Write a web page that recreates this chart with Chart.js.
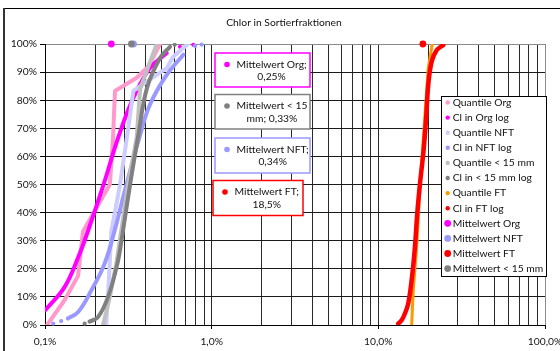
<!DOCTYPE html>
<html>
<head>
<meta charset="utf-8">
<script src="https://cdn.jsdelivr.net/npm/chart.js@4/dist/chart.umd.min.js"></script>
<style>
  html, body { margin: 0; padding: 0; background: #fff; }
  canvas { display: block; }
</style>
</head>
<body>
<canvas id="chart" width="560" height="351"></canvas>
<script>
// Cumulative distributions of chlorine content per sorting fraction.
// x: chlorine content in % (log scale), y: cumulative share in %.

// Quantile Org
const qOrgCl  = [0.103, 0.131, 0.158, 0.169, 0.245, 0.256, 0.263, 0.355, 0.417, 0.49];
const qOrgCum = [0, 8.8, 17.5, 33.3, 50, 66.7, 83.3, 88, 92, 100];

// Cl in Org log (solid part and the sparse end points)
const logOrgCl  = [0.1, 0.131, 0.158, 0.18, 0.224, 0.276, 0.339, 0.426, 0.537];
const logOrgCum = [5.2, 13.5, 24, 33, 49.8, 67, 80.8, 91.4, 96.8];
const logOrgEndCl  = [0.646, 0.776];
const logOrgEndCum = [99, 99.7];

// Quantile NFT
const qNftCl  = [0.233, 0.242, 0.25, 0.282, 0.31, 0.339, 0.468, 0.537, 0.588, 0.72];
const qNftCum = [0, 16.7, 33.3, 50, 66.7, 83.3, 89, 91.4, 95.5, 100];

// Cl in NFT log
const logNftCl  = [0.137, 0.158, 0.19, 0.228, 0.262, 0.302, 0.372, 0.426, 0.537, 0.676];
const logNftCum = [2.3, 4.6, 12.4, 21.9, 33.7, 48, 67.6, 78.4, 89, 96.2];
const logNftEndCl  = [0.112, 0.125, 0.795, 0.871];
const logNftEndCum = [0.5, 1.4, 99.3, 99.8];

// Quantile < 15 mm
const qSmallCl  = [0.223, 0.245, 0.268, 0.287, 0.315, 0.355, 0.372, 0.468];
const qSmallCum = [0, 10, 22, 33.7, 50, 66.7, 84, 100];

// Cl in < 15 mm log
const logSmallCl  = [0.185, 0.208, 0.239, 0.272, 0.291, 0.324, 0.363, 0.409, 0.49, 0.562];
const logSmallCum = [1.2, 2.8, 10, 21.9, 32, 50, 67.6, 84.3, 95, 99];
const logSmallEndCl  = [0.173, 0.6];
const logSmallEndCum = [0.5, 99.7];

// Quantile FT
const qFtCl  = [15.85, 16.2, 16.98, 17.89, 19.93, 21.06];
const qFtCum = [0, 12.4, 27.8, 51.6, 91.4, 100];

// Cl in FT log
const logFtCl  = [13.16, 13.8, 14.44, 15.11, 15.84, 16.58, 17.12, 17.81, 18.65, 19.35, 19.93, 20.88, 22.37, 24.51];
const logFtCum = [0.5, 1.7, 4.1, 7.6, 15.9, 27.8, 39.7, 50.8, 61.6, 73.5, 85.4, 93.7, 97.8, 99.6];

// Mean chlorine content per fraction (drawn at the 100 % line)
const meanOrg   = 0.25;
const meanNft   = 0.34;
const meanFt    = 18.5;
const meanSmall = 0.33;
const meanLevel = 100;

// Axis settings
const xMin = 0.1, xMax = 100;
const yTicks = [0, 10, 20, 30, 40, 50, 60, 70, 80, 90, 100];

const FONT = 'Lato, "Open Sans", sans-serif';
const FSIZE = 10.3;
const TEXT = '#111';

const pts = (xs, ys) => xs.map((x, i) => ({ x: x, y: ys[i] }));
const pct = v => String(v).replace('.', ',') + '%';

function curve(label, xs, ys, color, width, smooth, order) {
  return {
    label: label, data: pts(xs, ys), showLine: true,
    borderColor: color, backgroundColor: color, borderWidth: width,
    pointRadius: 0, pointHoverRadius: 0,
    cubicInterpolationMode: 'default', tension: smooth ? 0.4 : 0,
    borderCapStyle: 'round', borderJoinStyle: 'round',
    legendRadius: 2.2, order: order
  };
}
function dots(xs, ys, color, r, order) {
  return {
    label: '', data: pts(xs, ys), showLine: false,
    pointRadius: r, pointBackgroundColor: color, pointBorderWidth: 0,
    pointHoverRadius: r, clip: false, inLegend: false, order: order
  };
}
function mean(label, v, color, order) {
  return {
    label: label, data: [{ x: v, y: meanLevel }], showLine: false,
    pointRadius: 3.4, pointBackgroundColor: color, pointBorderWidth: 0,
    backgroundColor: color, clip: false, legendRadius: 3.4, order: order
  };
}

const datasets = [
  curve('Quantile Org', qOrgCl, qOrgCum, '#FF99CC', 4, false, 20),
  curve('Cl in Org log', logOrgCl, logOrgCum, '#FF00FF', 4, true, 19),
  curve('Quantile NFT', qNftCl, qNftCum, '#CCCCFF', 4, false, 18),
  curve('Cl in NFT log', logNftCl, logNftCum, '#9999FF', 4, true, 17),
  curve('Quantile < 15 mm', qSmallCl, qSmallCum, '#C0C0C0', 4, false, 16),
  curve('Cl in < 15 mm log', logSmallCl, logSmallCum, '#808080', 4, true, 15),
  curve('Quantile FT', qFtCl, qFtCum, '#FF9900', 3, false, 14),
  curve('Cl in FT log', logFtCl, logFtCum, '#FF0000', 4.5, true, 13),
  mean('Mittelwert Org', meanOrg, '#FF00FF', 12),
  mean('Mittelwert NFT', meanNft, '#9999FF', 11),
  mean('Mittelwert FT', meanFt, '#FF0000', 10),
  mean('Mittelwert < 15 mm', meanSmall, '#808080', 9),
  dots(logOrgEndCl, logOrgEndCum, '#FF00FF', 2.1, 19),
  dots(logNftEndCl, logNftEndCum, '#9999FF', 2.1, 17),
  dots(logSmallEndCl, logSmallEndCum, '#808080', 2.1, 15)
];

// Value boxes for the mean values
const meanBoxes = [
  { text: 'Mittelwert Org;', second: pct(meanOrg), color: '#FF00FF', x0: 215, y0: 53, x1: 310, y1: 87 },
  { text: 'Mittelwert < 15', second: 'mm; ' + pct(meanSmall), color: '#808080', x0: 215, y0: 94.5, x1: 310, y1: 129 },
  { text: 'Mittelwert NFT;', second: pct(meanNft), color: '#9999FF', x0: 215, y0: 138, x1: 310, y1: 173 },
  { text: 'Mittelwert FT;', second: pct(meanFt), color: '#FF0000', x0: 213, y0: 180.5, x1: 303, y1: 215.5 }
];

const decorations = {
  id: 'decorations',
  beforeDraw(chart) {
    const c = chart.ctx;
    c.save();
    c.fillStyle = '#fff';
    c.fillRect(0, 0, chart.width, chart.height);
    c.restore();
  },
  afterDraw(chart) {
    const c = chart.ctx;
    c.save();
    // outer frame
    c.fillStyle = '#000';
    c.fillRect(4, 8, chart.width - 4, 1);
    c.fillStyle = '#333';
    c.fillRect(3, 8, 2, chart.height - 8);

    c.font = FSIZE + 'px ' + FONT;
    c.textBaseline = 'middle';

    // title
    c.fillStyle = TEXT;
    c.textAlign = 'center';
    c.fillText('Chlor in Sortierfraktionen', 284, 23);

    // mean value boxes
    meanBoxes.forEach(b => {
      c.fillStyle = '#fff';
      c.fillRect(b.x0, b.y0, b.x1 - b.x0, b.y1 - b.y0);
      c.strokeStyle = b.color;
      c.lineWidth = 1.5;
      c.strokeRect(b.x0, b.y0, b.x1 - b.x0, b.y1 - b.y0);
      const w = c.measureText(b.text).width;
      const tx = b.x0 + 21.5;
      c.fillStyle = b.color;
      c.beginPath();
      c.arc(b.x0 + 12, b.y0 + 11.5, 2.8, 0, Math.PI * 2);
      c.fill();
      c.fillStyle = TEXT;
      c.textAlign = 'left';
      c.fillText(b.text, tx, b.y0 + 11.5);
      c.textAlign = 'center';
      c.fillText(b.second, tx + w / 2, b.y0 + 24);
    });

    // legend
    const lx0 = 441.5, ly0 = 96.5, lx1 = 546.5, ly1 = 276.5;
    c.fillStyle = '#fff';
    c.fillRect(lx0, ly0, lx1 - lx0, ly1 - ly0);
    c.strokeStyle = '#000';
    c.lineWidth = 1;
    c.strokeRect(lx0, ly0, lx1 - lx0, ly1 - ly0);
    let row = 0;
    chart.data.datasets.forEach(ds => {
      if (ds.inLegend === false) return;
      const y = 102.5 + row * 15.1;
      c.fillStyle = ds.backgroundColor || ds.pointBackgroundColor;
      c.beginPath();
      c.arc(447.7, y, ds.legendRadius, 0, Math.PI * 2);
      c.fill();
      c.fillStyle = TEXT;
      c.textAlign = 'left';
      c.fillText(ds.label, 452.7, y);
      row++;
    });
    c.restore();
  }
};

const isDecade = v => Math.abs(Math.log10(v) - Math.round(Math.log10(v))) < 1e-9;

new Chart(document.getElementById('chart'), {
  type: 'scatter',
  data: { datasets: datasets },
  plugins: [decorations],
  options: {
    responsive: false,
    animation: false,
    devicePixelRatio: 1,
    layout: { padding: { top: 44, right: 15, left: 0, bottom: 0 } },
    plugins: { legend: { display: false }, tooltip: { enabled: false }, title: { display: false } },
    scales: {
      x: {
        type: 'logarithmic', min: xMin, max: xMax,
        afterBuildTicks(scale) {
          // keep the 1..9 steps of every decade only
          scale.ticks = scale.ticks.filter(t => {
            const m = t.value / Math.pow(10, Math.floor(Math.log10(t.value) + 1e-9));
            return Math.abs(m - Math.round(m)) < 1e-6;
          });
        },
        afterFit(scale) { scale.height = 26; scale.paddingLeft = 0; scale.paddingRight = 0; },
        border: { color: '#000', width: 1 },
        grid: {
          color: ctx => (ctx.tick && Math.abs(ctx.tick.value - xMax) < 1e-9) ? '#8a8a8a' : '#2a2a2a',
          lineWidth: 1,
          drawTicks: true, tickLength: 4,
          tickColor: ctx => (ctx.tick && isDecade(ctx.tick.value)) ? '#000' : 'rgba(0,0,0,0)'
        },
        ticks: {
          autoSkip: false, maxRotation: 0, minRotation: 0, padding: 6,
          color: TEXT, font: { family: FONT, size: FSIZE },
          callback: v => isDecade(v) ? Number(v).toFixed(1).replace('.', ',') + '%' : ''
        }
      },
      y: {
        type: 'linear', min: yTicks[0], max: yTicks[yTicks.length - 1],
        afterBuildTicks(scale) { scale.ticks = yTicks.map(v => ({ value: v })); },
        afterFit(scale) { scale.width = 45; },
        border: { color: '#000', width: 1 },
        grid: {
          color: ctx => (ctx.tick && ctx.tick.value === 100) ? '#8a8a8a' : '#1a1a1a',
          lineWidth: 1, drawTicks: true, tickLength: 5, tickColor: '#000'
        },
        ticks: {
          padding: 3, color: TEXT, font: { family: FONT, size: FSIZE },
          callback: v => v + '%'
        }
      }
    }
  }
});
</script>
</body>
</html>
